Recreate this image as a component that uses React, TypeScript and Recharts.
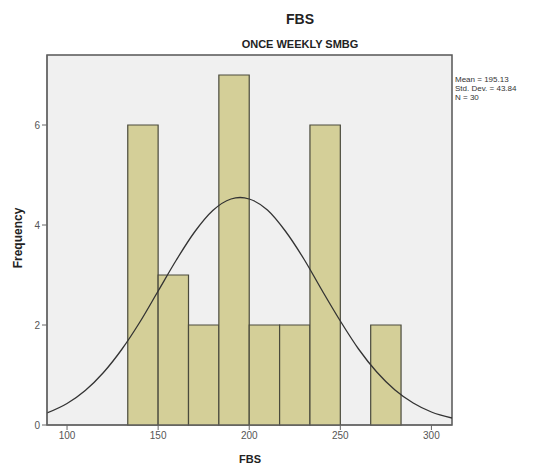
import {
  ComposedChart,
  Line,
  XAxis,
  YAxis,
  ReferenceArea,
} from "recharts";

// histogram bins (FBS), width 50/3
const binStarts = [133.33, 150, 166.67, 183.33, 200, 216.67, 233.33, 250, 266.67];
const binEnds = [150, 166.67, 183.33, 200, 216.67, 233.33, 250, 266.67, 283.33];
const counts = [6, 3, 2, 7, 2, 2, 6, 0, 2];

// normal curve
const curveX = [89, 100, 110, 120, 130, 140, 150, 160, 170, 180, 190, 195, 200, 210, 220, 230, 240, 250, 260, 270, 280, 290, 300, 311.3];
const curveY = [0.24, 0.43, 0.69, 1.05, 1.51, 2.06, 2.68, 3.3, 3.86, 4.29, 4.52, 4.55, 4.52, 4.3, 3.87, 3.32, 2.69, 2.08, 1.52, 1.06, 0.7, 0.44, 0.26, 0.14];

const xTicks = [100, 150, 200, 250, 300];
const yTicks = [0, 2, 4, 6];
const statLines = ["Mean = 195.13", "Std. Dev. = 43.84", "N = 30"];

const X_MIN = 89;
const X_MAX = 311.3;
const Y_MAX = 7.4;

const curve = curveX.map((x, i) => ({ x, y: curveY[i] }));

const font = "'Liberation Sans', Arial, sans-serif";
const tickStyle = { fontSize: 10, fill: "#555", fontFamily: font };

export default function App() {
  return (
    <div style={{ position: "absolute", left: 0, top: 0, width: 553, height: 464, background: "#fff" }}>
      <ComposedChart
        width={553}
        height={464}
        data={curve}
        margin={{ top: 55, right: 101, bottom: 0, left: 0 }}
      >
        <XAxis
          dataKey="x"
          type="number"
          domain={[X_MIN, X_MAX]}
          ticks={xTicks}
          allowDataOverflow
          height={39}
          tick={tickStyle}
          tickSize={5}
          stroke="#666"
        />
        <YAxis
          type="number"
          domain={[0, Y_MAX]}
          ticks={yTicks}
          allowDataOverflow
          width={47}
          tick={tickStyle}
          tickSize={5}
          stroke="#666"
        />
        <ReferenceArea
          x1={X_MIN}
          x2={X_MAX}
          y1={0}
          y2={Y_MAX}
          fill="#f0f0f0"
          fillOpacity={1}
          stroke="#555"
          strokeWidth={1.5}
        />
        {counts.map((c, i) =>
          c > 0 ? (
            <ReferenceArea
              key={i}
              x1={binStarts[i]}
              x2={binEnds[i]}
              y1={0}
              y2={c}
              fill="#d4cf98"
              fillOpacity={1}
              stroke="#4a4a3c"
              strokeWidth={1.2}
            />
          ) : null
        )}
        <Line
          dataKey="y"
          type="monotone"
          stroke="#333"
          strokeWidth={1.3}
          dot={false}
          isAnimationActive={false}
        />
        <text x={300} y={24} textAnchor="middle" fontFamily={font} fontSize={14} fontWeight="bold" fill="#222">
          FBS
        </text>
        <text x={300} y={48} textAnchor="middle" fontFamily={font} fontSize={11} fontWeight="bold" fill="#222">
          ONCE WEEKLY SMBG
        </text>
        {statLines.map((s, i) => (
          <text key={s} x={455} y={82 + i * 9} fontFamily={font} fontSize={8} fill="#333">
            {s}
          </text>
        ))}
        <text
          x={22}
          y={238}
          transform="rotate(-90 22 238)"
          textAnchor="middle"
          fontFamily={font}
          fontSize={12}
          fontWeight="bold"
          fill="#222"
        >
          Frequency
        </text>
        <text x={250} y={463} textAnchor="middle" fontFamily={font} fontSize={11} fontWeight="bold" fill="#222">
          FBS
        </text>
      </ComposedChart>
    </div>
  );
}
